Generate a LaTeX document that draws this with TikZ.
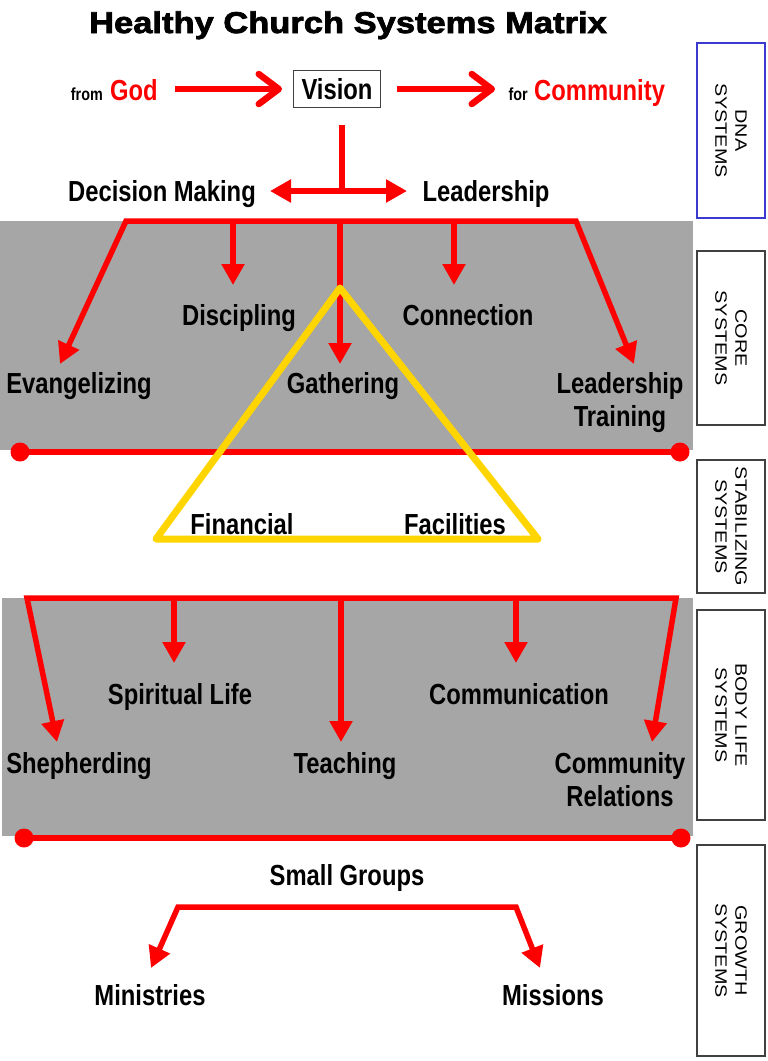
\documentclass[tikz,border=0pt]{standalone}
\usepackage{fontspec}
\setmainfont{Liberation Sans}
\newfontfamily\nb[FakeStretch=0.82]{Liberation Sans Bold}
\newfontfamily\sidef[FakeStretch=1.2]{Liberation Sans}
\newfontfamily\titlef[FakeStretch=1.15,FakeBold=2.5]{Liberation Sans Bold}
\usetikzlibrary{arrows.meta}
\definecolor{redA}{HTML}{FF0000}
\definecolor{bandgray}{HTML}{A6A6A6}
\definecolor{goldY}{HTML}{FFD500}
\definecolor{boxblue}{HTML}{3A3AD0}
\definecolor{boxgray}{HTML}{404040}
\begin{document}
\begin{tikzpicture}[x=1pt,y=-1pt,
  lbl/.style={font=\nb\fontsize{29}{33}\selectfont, inner sep=0pt, align=center},
  smalllbl/.style={font=\nb\fontsize{17.5}{20}\selectfont, inner sep=0pt},
  redline/.style={draw=redA, line width=5.5pt},
  tipT/.style={-{Triangle[length=21pt,width=22pt]}},
  dblhead/.style={{Triangle[length=21pt,width=22pt]}-{Triangle[length=21pt,width=22pt]}},
  barb/.style={draw=redA, line width=6.5pt, -{Straight Barb[length=20pt,width=30pt,round]}},
  sidebox/.style={draw=boxgray, line width=1.1pt, rotate=-90, minimum height=68pt,
    font=\sidef\fontsize{16.5}{20}\selectfont, align=center, inner sep=0pt},
  enddot/.style={circle, fill=redA, minimum size=19pt, inner sep=0pt},
  goldtri/.style={draw=goldY, line width=7pt, line join=round}
]
\useasboundingbox (0,0) rectangle (768,1061);
\fill[white] (0,0) rectangle (768,1061);

% title
\node[font=\titlef\fontsize{30}{32}\selectfont, anchor=base, inner sep=0pt] (title) at (348,33) {Healthy Church Systems Matrix};

% DNA level
\node[smalllbl, anchor=base east] (from) at (103,100) {from};
\node[lbl, text=redA, anchor=base west] (god) at (110,100) {God};
\node[lbl, draw=boxgray, line width=0.8pt, minimum width=87pt, minimum height=37pt] (vision) at (337,89) {Vision};
\node[smalllbl, anchor=base east] (for) at (528,100) {for};
\node[lbl, text=redA, anchor=base west] (community) at (534,100) {Community};
\coordinate (g1) at (175,89); \coordinate (g2) at (282,89);
\coordinate (c1) at (397,89); \coordinate (c2) at (495,89);
\draw[barb] (g1) -- (g2);
\draw[barb] (c1) -- (c2);

\node[lbl, anchor=base] (decision) at (162,201) {Decision Making};
\node[lbl, anchor=base] (leadership) at (486,201) {Leadership};
\coordinate (vtop) at (342,125); \coordinate (vjoin) at (342,191);
\coordinate (dmtip) at (270,191); \coordinate (ldtip) at (407,191);
\draw[redline] (vtop) -- (vjoin);
\draw[redline, dblhead] (dmtip) -- (ldtip);

% core band
\fill[bandgray] (0,221) rectangle (693,450);
\node[lbl, anchor=base] (discipling) at (239,325) {Discipling};
\node[lbl, anchor=base] (connection) at (468,325) {Connection};
\node[lbl, anchor=base] (evangelizing) at (79,393) {Evangelizing};
\node[lbl, anchor=base] (gathering) at (343,393) {Gathering};
\node[lbl, anchor=north] (training) at (620,372) {Leadership\\Training};
\coordinate (b1l) at (126,221); \coordinate (b1r) at (576,221);
\coordinate (evtip) at (60,364); \coordinate (lttip) at (634,364);
\coordinate (d1) at (233,221); \coordinate (d1tip) at (233,285);
\coordinate (n1) at (454,221); \coordinate (n1tip) at (454,285);
\coordinate (ga1) at (340,221); \coordinate (ga1tip) at (340,364);
\draw[redline, line join=miter, dblhead] (evtip) -- (b1l) -- (b1r) -- (lttip);
\draw[redline, tipT] (d1) -- (d1tip);
\draw[redline, tipT] (n1) -- (n1tip);
\draw[redline, tipT] (ga1) -- (ga1tip);
\draw[redline] (20,452) coordinate (l1) -- (680,452) coordinate (r1);
\node[enddot] (l1dot) at (l1) {};
\node[enddot] (r1dot) at (r1) {};

% stabilizing
\node[lbl, anchor=base] (financial) at (242,534) {Financial};
\node[lbl, anchor=base] (facilities) at (455,534) {Facilities};
\coordinate (apex) at (340,288); \coordinate (tl) at (156,539); \coordinate (tr) at (538,539);
\draw[goldtri] (apex) -- (tl) -- (tr) -- cycle;

% body life band
\fill[bandgray] (2,598) rectangle (693,836);
\node[lbl, anchor=base] (spiritual) at (180,704) {Spiritual Life};
\node[lbl, anchor=base] (communication) at (519,704) {Communication};
\node[lbl, anchor=base] (shepherding) at (79,773) {Shepherding};
\node[lbl, anchor=base] (teaching) at (345,773) {Teaching};
\node[lbl, anchor=north] (relations) at (620,752) {Community\\Relations};
\coordinate (b2l) at (27,598); \coordinate (b2r) at (676,598);
\coordinate (shtip) at (57,742); \coordinate (crtip) at (652,742);
\coordinate (s1) at (174,598); \coordinate (s1tip) at (174,663);
\coordinate (m1) at (516,598); \coordinate (m1tip) at (516,663);
\coordinate (t1) at (341,598); \coordinate (t1tip) at (341,742);
\draw[redline, line join=miter, dblhead] (shtip) -- (b2l) -- (b2r) -- (crtip);
\draw[redline, tipT] (s1) -- (s1tip);
\draw[redline, tipT] (m1) -- (m1tip);
\draw[redline, tipT] (t1) -- (t1tip);
\draw[redline] (24,838) coordinate (l2) -- (681,838) coordinate (r2);
\node[enddot] (l2dot) at (l2) {};
\node[enddot] (r2dot) at (r2) {};

% growth
\node[lbl, anchor=base] (smallgroups) at (347,885) {Small Groups};
\node[lbl, anchor=base] (ministries) at (150,1005) {Ministries};
\node[lbl, anchor=base] (missions) at (553,1005) {Missions};
\coordinate (gl) at (178,907); \coordinate (gr) at (516,907);
\coordinate (mitip) at (151,968); \coordinate (mstip) at (540,968);
\draw[redline, line join=miter, dblhead] (mitip) -- (gl) -- (gr) -- (mstip);

% side boxes
\node[sidebox, draw=boxblue, minimum width=175pt] (dna) at (731,130.5) {DNA\\SYSTEMS};
\node[sidebox, minimum width=174pt] (core) at (731,338) {CORE\\SYSTEMS};
\node[sidebox, minimum width=133pt] (stab) at (731,526.5) {STABILIZING\\SYSTEMS};
\node[sidebox, minimum width=210pt] (body) at (731,715) {BODY LIFE\\SYSTEMS};
\node[sidebox, minimum width=211pt] (growth) at (731,950.5) {GROWTH\\SYSTEMS};
\end{tikzpicture}
\end{document}
